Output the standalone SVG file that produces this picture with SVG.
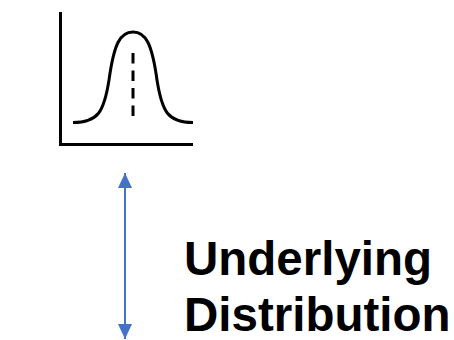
<svg xmlns="http://www.w3.org/2000/svg" width="454" height="340" viewBox="0 0 454 340">
<style>
.ax{fill:none;stroke:#000;stroke-width:3}
.lbl{font-family:"Liberation Sans",Arial,sans-serif;font-weight:bold;font-size:47.5px;fill:#000}
.conn{stroke:#4472C4;stroke-width:2;fill:none}
</style>
<defs>
<marker id="ah" viewBox="0 0 15 14" refX="15" refY="7" markerWidth="15" markerHeight="14" markerUnits="userSpaceOnUse" orient="auto-start-reverse">
<path d="M0,0 L15,7 L0,14 Z" fill="#4472C4"/>
</marker>
</defs>
<g id="chart">
<path class="ax" d="M60.5,12 V144.5 H193"/>
<path class="ax" d="M73,122.5 C98,122.5 104,112 109,80 C114,44 120,32 133,32 C146,32 152,44 157,80 C162,112 168,122.5 193,122.5"/>
<line x1="133" y1="53" x2="133" y2="117" stroke="#000" stroke-width="3" stroke-dasharray="10.5,7"/>
</g>
<g id="connectors">
<line class="conn" x1="125" y1="173" x2="125" y2="339" marker-start="url(#ah)" marker-end="url(#ah)"/>
</g>
<g id="label">
<text class="lbl" x="184" y="275">Underlying</text>
<text class="lbl" x="184" y="331">Distribution</text>
</g>
</svg>
